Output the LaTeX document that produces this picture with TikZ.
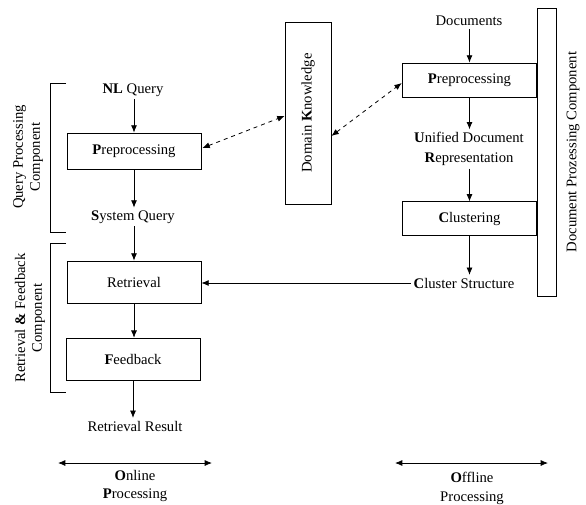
\documentclass[tikz,border=0pt]{standalone}
\usepackage{fontspec}
\setmainfont{Liberation Serif}
\usetikzlibrary{arrows.meta,calc}

\tikzset{
  box/.style={draw, line width=0.6pt, minimum width=100.5pt, minimum height=27pt},
  txt/.style={inner sep=2pt, align=center},
  flow/.style={-{Latex[length=5.5pt,width=4.5pt]}, line width=0.6pt},
  link/.style={{Latex[length=5.5pt,width=4.5pt]}-{Latex[length=5.5pt,width=4.5pt]}, dashed, line width=0.6pt},
  span/.style={{Latex[length=5.5pt,width=4.5pt]}-{Latex[length=5.5pt,width=4.5pt]}, line width=0.6pt}
}

\begin{document}
\begin{tikzpicture}[x=0.75pt, y=-0.75pt, font=\fontsize{11}{14.5}\selectfont]
        \useasboundingbox (0,0) rectangle (586,504);

        % Query processing
        \node[txt] (nlq) at (133,90) {\textbf{NL} Query};
        \node[box] (qpre) at (134,151) {\textbf{P}reprocessing};
        \node[txt] (sq) at (133,217) {\textbf{S}ystem Query};
        \draw[flow] (qpre.north |- nlq.south) -- (qpre.north);
        \draw[flow] (qpre.south) -- (qpre.south |- sq.north);

        % Retrieval and feedback
        \node[box, minimum height=31.5pt] (retr) at (134,282) {Retrieval};
        \node[box, minimum height=32pt] (feed) at (133,359.5) {\textbf{F}eedback};
        \node[txt] (rr) at (135,426) {Retrieval Result};
        \draw[flow] (retr.north |- sq.south) -- (retr.north);
        \draw[flow] (retr.south) -- (retr.south |- feed.north);
        \draw[flow] (feed.south) -- (feed.south |- rr.north);

        % Brackets on the left
        \draw[line width=0.6pt] (66,83) -- (50,83) -- (50,232) -- (66,232);
        \node[txt, rotate=90, font=\fontsize{11}{12.8}\selectfont] (qpc) at (28,157) {Query Processing\\Component};
        \draw[line width=0.6pt] (66,243) -- (50,243) -- (50,392) -- (66,392);
        \node[txt, rotate=90, font=\fontsize{11}{12.5}\selectfont] (rfc) at (30,318) {Retrieval \textbf{\&} Feedback\\Component};

        % Domain knowledge
        \node[draw, line width=0.6pt, minimum width=34.5pt, minimum height=136.5pt] (dk) at (308,113) {};
        \node[txt, rotate=90] (dkl) at (dk) {Domain \textbf{K}nowledge};

        % Document processing
        \node[txt] (docs) at (469,21) {Documents};
        \node[box, minimum width=101pt, minimum height=25.5pt] (dpre) at (469.5,80) {\textbf{P}reprocessing};
        \node[txt, font=\fontsize{11}{15}\selectfont] (udr) at (469,149) {\textbf{U}nified Document\\\textbf{R}epresentation};
        \node[box, minimum width=101pt, minimum height=25pt] (clus) at (469.5,218.5) {\textbf{C}lustering};
        \node[txt] (cs) at (464,283) {\textbf{C}luster Structure};
        \draw[flow] (dpre.north |- docs.south) -- (dpre.north);
        \draw[flow] (dpre.south) -- (dpre.south |- udr.north);
        \draw[flow] (clus.north |- udr.south) -- (clus.north);
        \draw[flow] (clus.south) -- (clus.south |- cs.north);
        \draw[flow] (cs) -- (retr.east |- cs);

        \node[draw, line width=0.6pt, minimum width=14.25pt, minimum height=216pt] (dpc) at (546.5,152) {};
        \node[txt, rotate=90] (dpcl) at (573,152) {Document Prozessing Component};

        % Dashed links to domain knowledge
        \draw[link] ($(qpre.east)+(1,-3)$) -- ($(dk.west)+(0,3)$);
        \draw[link] ($(dk.east)+(0,23)$) -- ($(dpre.west)+(0,3)$);

        % Online / offline
        \coordinate (onl) at (58,463);
        \coordinate (onr) at (212,463);
        \draw[span] (onl) -- (onr);
        \node[txt, font=\fontsize{11}{14.2}\selectfont] (onp) at (135,486) {\textbf{O}nline\\\textbf{P}rocessing};
        \coordinate (offl) at (395,463);
        \coordinate (offr) at (548,463);
        \draw[span] (offl) -- (offr);
        \node[txt, font=\fontsize{11}{14.2}\selectfont] (offp) at (472,488.5) {\textbf{O}ffline\\Processing};
    \end{tikzpicture}
\end{document}
